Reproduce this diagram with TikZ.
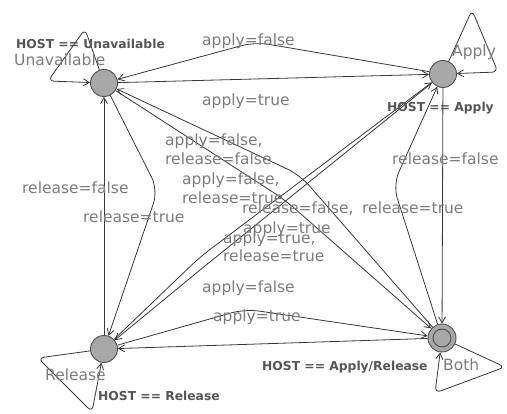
\documentclass[tikz,border=0pt]{standalone}
\usepackage{fontspec}
\setmainfont{DejaVu Sans}
\usetikzlibrary{arrows.meta}
\definecolor{edgegray}{HTML}{383838}
\definecolor{locline}{HTML}{505050}
\definecolor{locfill}{HTML}{A8A8A8}
\definecolor{lblgray}{HTML}{7C7C7C}
\definecolor{invgray}{HTML}{555555}
\begin{document}
\begin{tikzpicture}[x=1pt,y=-1pt,
  loc/.style={circle, draw=locline, fill=locfill, line width=0.9pt, minimum size=27pt, inner sep=0pt},
  edge/.style={draw=edgegray, line width=0.8pt, -{Straight Barb[length=6pt,width=7pt]}},
  nailed/.style={edge, rounded corners=14pt},
  loop/.style={edge, rounded corners=6pt},
  lbl/.style={text=lblgray, font=\fontsize{15.5}{19}\selectfont, anchor=mid west, inner sep=0pt},
  inv/.style={text=invgray, font=\bfseries\fontsize{12.3}{15}\selectfont, anchor=mid west, inner sep=0pt}]
\useasboundingbox (0,0) rectangle (507,414);

% locations
\node[loc] (U) at (104,83) {};
\node[loc] (A) at (443,74) {};
\node[loc] (R) at (104,349) {};
\node[loc, minimum size=28pt] (B) at (442,338) {};
\draw[locline, line width=0.9pt] (B.center) circle (9pt);

% nails
\coordinate (nAU) at (255,42);
\coordinate (nUR) at (158,190);
\coordinate (nBA) at (393,185);
\coordinate (nBU) at (300,175);
\coordinate (nUB) at (285,200);
\coordinate (nRA) at (200,257);
\coordinate (nAR) at (200,270);
\coordinate (nRB) at (245,309);
% self-loop corners
\coordinate (uTop) at (85,29);
\coordinate (uLeft) at (48,81);
\coordinate (aTop) at (472,10);
\coordinate (aRight) at (498,72);
\coordinate (rLeft) at (38,358);
\coordinate (rBot) at (92,412);
\coordinate (bRight) at (505,367);
\coordinate (bBot) at (435,393);

% transitions
\draw[nailed] (A) -- (nAU) -- (U);
\draw[edge] (U) -- (A);
\draw[edge] (R) -- (U);
\draw[nailed] (U) -- (nUR) -- (R);
\draw[edge] (A) -- (B);
\draw[nailed] (B) -- (nBA) -- (A);
\draw[nailed] (B) -- (nBU) -- (U);
\draw[nailed] (U) -- (nUB) -- (B);
\draw[nailed] (R) -- (nRA) -- (A);
\draw[nailed] (A) -- (nAR) -- (R);
\draw[edge] (B) -- (R);
\draw[nailed] (R) -- (nRB) -- (B);

% self-loops
\draw[loop] (U) -- (uTop) -- (uLeft) -- (U);
\draw[loop] (A) -- (aTop) -- (aRight) -- (A);
\draw[loop] (R) -- (rLeft) -- (rBot) -- (R);
\draw[loop] (B) -- (bRight) -- (bBot) -- (B);

% invariants and names
\node[inv] (iU) at (16,46) {HOST == Unavailable};
\node[lbl] (tU) at (14,63) {Unavailable};
\node[lbl] (tA) at (452,54) {Apply};
\node[inv] (iA) at (387,109) {HOST == Apply};
\node[lbl] (tR) at (45,378) {Release};
\node[inv] (iR) at (98,398) {HOST == Release};
\node[inv] (iB) at (262,368) {HOST == Apply/Release};
\node[lbl] (tB) at (443,368) {Both};

% assignments
\node[lbl] (l1) at (202,43) {apply=false};
\node[lbl] (l2) at (202,103) {apply=true};
\node[lbl] (l3) at (22,191) {release=false};
\node[lbl] (l4) at (83,220) {release=true};
\node[lbl] (l5) at (392,162) {release=false};
\node[lbl] (l6) at (362,211) {release=true};
\node[lbl] (l7a) at (165,143) {apply=false,};
\node[lbl] (l7b) at (165,162) {release=false};
\node[lbl] (l8a) at (182,182) {apply=false,};
\node[lbl] (l8b) at (182,201) {release=true};
\node[lbl] (l9a) at (242,211) {release=false,};
\node[lbl] (l9b) at (243,231) {apply=true};
\node[lbl] (l10a) at (223,241) {apply=true,};
\node[lbl] (l10b) at (223,259) {release=true};
\node[lbl] (l11) at (202,290) {apply=false};
\node[lbl] (l12) at (213,319) {apply=true};
\end{tikzpicture}
\end{document}
